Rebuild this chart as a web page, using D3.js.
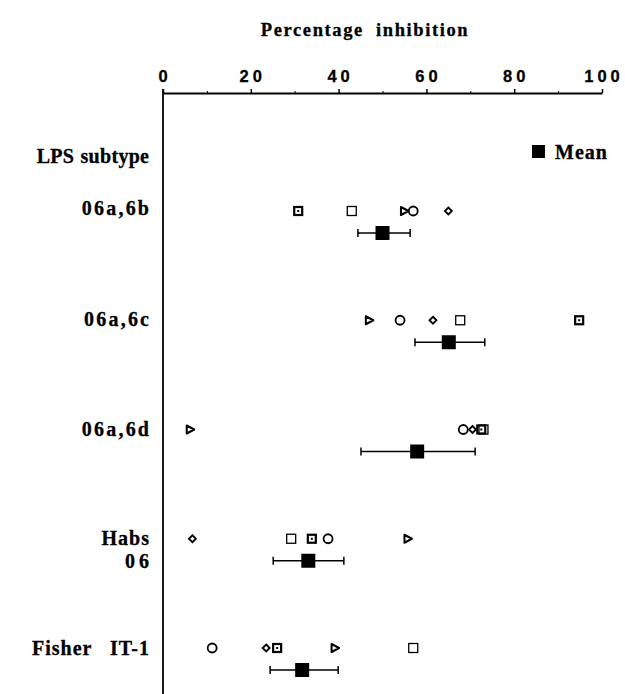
<!DOCTYPE html>
<html><head><meta charset="utf-8">
<script src="https://cdn.jsdelivr.net/npm/d3@7"></script>
<style>body{margin:0;background:#fff}svg{display:block}</style>
</head><body>
<svg id="c" width="625" height="694"></svg>
<script>
const categories = ["06a,6b", "06a,6c", "06a,6d", "Habs 06", "Fisher IT-1"];
const symbolNames = ["openSquare", "dotSquare", "circle", "triangle", "diamond"];
// values per category, in order of symbolNames
const openSquareValues = [43, 67.7, 73, 29.2, 57];
const dotSquareValues  = [30.8, 94.8, 72.5, 33.9, 26];
const circleValues     = [57, 54, 68.4, 37.6, 11.2];
const triangleValues   = [55, 47, 6.2, 55.8, 39.2];
const diamondValues    = [65, 61.5, 70.5, 6.7, 23.5];
const meanValues = [50, 65.1, 57.9, 33.1, 31.7];
const errLow  = [44.4, 57.4, 45.1, 25.1, 24.4];
const errHigh = [56.3, 73.3, 71.1, 41.2, 39.9];
const tickValues = [0, 20, 40, 60, 80, 100];
const tickLabels = ["0", "20", "40", "60", "80", "100"];
const minorTicks = [10, 30, 50, 70, 90];

const svg = d3.select("#c");
const x = d3.scaleLinear().domain([0, 100]).range([163, 602]);
const yRow = d3.scalePoint().domain(categories).range([211, 648]);
const meanOffset = 22;
const serif = "'Liberation Serif', 'Times New Roman', serif";

// title
svg.append("text").attr("x", 365).attr("y", 36).attr("text-anchor", "middle")
  .attr("font-family", serif).attr("font-weight", "bold").attr("font-size", 18.5)
  .attr("letter-spacing", 1.6).attr("word-spacing", 6)
  .attr("stroke", "#000").attr("stroke-width", 0.3)
  .text("Percentage inhibition");

// top axis
const axisY = 93;
const ax = svg.append("g").attr("transform", `translate(0,${axisY})`)
  .call(d3.axisTop(x).tickValues(tickValues).tickSize(4).tickSizeOuter(0).tickFormat(""));
ax.select(".domain").attr("stroke-width", 1.8);
ax.selectAll(".tick line").attr("stroke-width", 1.5);
svg.append("g").attr("transform", `translate(0,${axisY})`)
  .call(d3.axisTop(x).tickValues(minorTicks).tickSize(2).tickFormat(""))
  .call(g => g.select(".domain").remove());
svg.selectAll(".tlab").data(tickValues).enter().append("text")
  .attr("x", d => x(d) + 2).attr("y", 82).attr("text-anchor", "middle")
  .attr("font-family", "'Liberation Sans', Arial, sans-serif").attr("font-weight", "bold")
  .attr("font-size", 16.5).attr("letter-spacing", 4)
  .attr("stroke", "#000").attr("stroke-width", 0.3)
  .text((d, i) => tickLabels[i]);

// vertical axis
svg.append("line").attr("x1", x(0)).attr("x2", x(0)).attr("y1", axisY - 4).attr("y2", 694)
  .attr("stroke", "#000").attr("stroke-width", 1.8);

// row labels
const labelX = 149;
const lab = (t, y, ls, ws) => svg.append("text").attr("x", labelX + ls).attr("y", y).attr("text-anchor", "end")
  .attr("font-family", serif).attr("font-weight", "bold").attr("font-size", 20)
  .attr("letter-spacing", ls).attr("word-spacing", ws)
  .attr("stroke", "#000").attr("stroke-width", 0.3).text(t);
lab("LPS subtype", 163, 0.3, 1);
lab("06a,6b", yRow(categories[0]) + 4, 2.2, 0);
lab("06a,6c", yRow(categories[1]) + 6, 2.2, 0);
lab("06a,6d", yRow(categories[2]) + 6, 2.2, 0);
lab("Habs", yRow(categories[3]) + 6, 1, 0);
lab("0 6", yRow(categories[3]) + 29, 1, -3);
lab("Fisher IT-1", yRow(categories[4]) + 7, 1, 12);

// legend
svg.append("rect").attr("x", 532).attr("y", 145).attr("width", 13).attr("height", 13).attr("fill", "#000");
svg.append("text").attr("x", 555).attr("y", 159).attr("font-family", serif).attr("font-weight", "bold")
  .attr("font-size", 20).attr("letter-spacing", 1)
  .attr("stroke", "#000").attr("stroke-width", 0.3).text("Mean");

// markers
const series = {openSquare: openSquareValues, dotSquare: dotSquareValues, circle: circleValues,
  triangle: triangleValues, diamond: diamondValues};
const g = svg.append("g");
categories.forEach((c, i) => {
  const cy = yRow(c);
  symbolNames.forEach(s => {
    const cx = x(series[s][i]);
    if (s === "openSquare") {
      g.append("rect").attr("x", cx - 4.5).attr("y", cy - 4.5).attr("width", 9).attr("height", 9)
        .attr("fill", "none").attr("stroke", "#000").attr("stroke-width", 1.3);
    } else if (s === "dotSquare") {
      g.append("rect").attr("x", cx - 4).attr("y", cy - 4).attr("width", 8).attr("height", 8)
        .attr("fill", "none").attr("stroke", "#000").attr("stroke-width", 2.2);
      g.append("rect").attr("x", cx - 1).attr("y", cy - 1).attr("width", 2).attr("height", 2).attr("fill", "#000");
    } else if (s === "circle") {
      g.append("circle").attr("cx", cx).attr("cy", cy).attr("r", 4.5)
        .attr("fill", "none").attr("stroke", "#000").attr("stroke-width", 1.8);
    } else if (s === "triangle") {
      g.append("path").attr("d", `M${cx - 3.5},${cy - 4} L${cx + 4},${cy} L${cx - 3.5},${cy + 4} Z`)
        .attr("fill", "none").attr("stroke", "#000").attr("stroke-width", 2).attr("stroke-linejoin", "round");
    } else if (s === "diamond") {
      g.append("path").attr("d", `M${cx},${cy - 3.5} L${cx + 3.5},${cy} L${cx},${cy + 3.5} L${cx - 3.5},${cy} Z`)
        .attr("fill", "none").attr("stroke", "#000").attr("stroke-width", 1.8);
    }
  });
  // mean + error bar
  const my = cy + meanOffset;
  g.append("line").attr("x1", x(errLow[i])).attr("x2", x(errHigh[i])).attr("y1", my).attr("y2", my)
    .attr("stroke", "#000").attr("stroke-width", 1.3);
  [errLow[i], errHigh[i]].forEach(v => g.append("line").attr("x1", x(v)).attr("x2", x(v))
    .attr("y1", my - 4).attr("y2", my + 4).attr("stroke", "#000").attr("stroke-width", 1.5));
  g.append("rect").attr("x", x(meanValues[i]) - 7).attr("y", my - 7).attr("width", 14).attr("height", 14)
    .attr("fill", "#000");
});
</script>
</body></html>
